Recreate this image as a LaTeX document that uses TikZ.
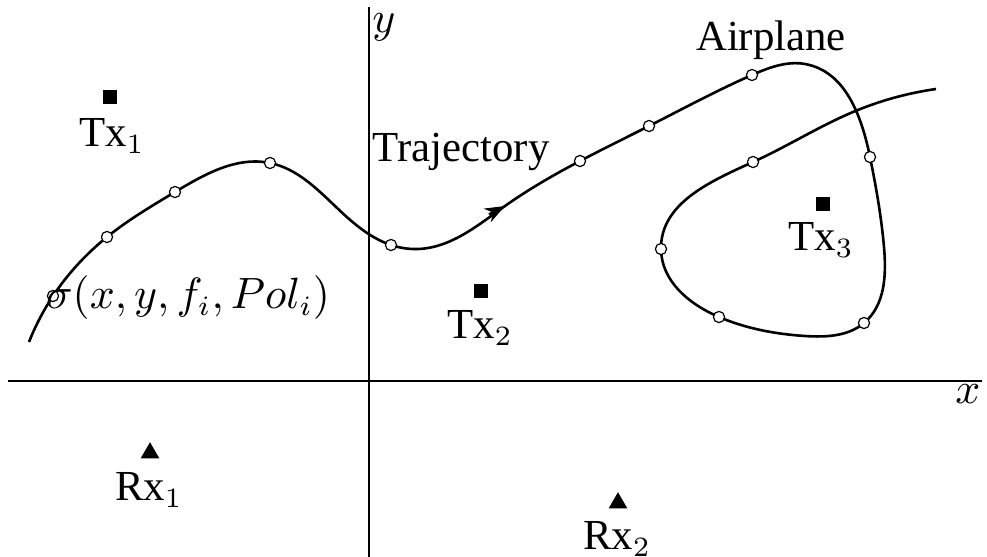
\documentclass[tikz,border=0pt]{standalone}
\usepackage{fontspec}
\setmainfont{Liberation Serif}
\usetikzlibrary{arrows.meta,positioning,shapes.geometric,calc,hobby}

\begin{document}
\begin{tikzpicture}[x=0.25pt, y=-0.25pt,
  font=\fontsize{10.7}{12.8}\selectfont,
  axis/.style={line width=0.5pt},
  traj/.style={line width=0.65pt, use Hobby shortcut},
  wpt/.style={circle, draw, fill=white, line width=0.3pt, inner sep=0pt,
    minimum size=2.8pt},
  txmark/.style={fill=black, inner sep=0pt, minimum size=3.5pt},
  rxmark/.style={regular polygon, regular polygon sides=3, fill=black,
    inner sep=0pt, minimum size=5.4pt},
  lbl/.style={inner sep=0pt}
]
\useasboundingbox (0,0) rectangle (987,557);
% axes
\coordinate (xs) at (8,381);
\coordinate (xe) at (982,381);
\coordinate (ys) at (369,557);
\coordinate (ye) at (369,7);
\draw[axis] (xs) -- (xe);
\draw[axis] (ys) -- (ye);
\node[lbl] (xlbl) at (968,394) {$x$};
\node[lbl] (ylbl) at (384,27) {$y$};
% trajectory points
\coordinate (t0) at (29,342);
\coordinate (c1) at (53,296);
\coordinate (c2) at (107,237);
\coordinate (c3) at (175,192);
\coordinate (c4) at (270,163);
\coordinate (t1) at (335,206);
\coordinate (c5) at (391,245);
\coordinate (t2) at (418,249);
\coordinate (arr) at (505,206);
\coordinate (arrb) at (489,214.5);
\coordinate (c6) at (580,161);
\coordinate (c7) at (649,126);
\coordinate (c8) at (752,75);
\coordinate (t3) at (805,64);
\coordinate (c9) at (870,157);
\coordinate (t5) at (884,247);
\coordinate (c10) at (864,323);
\coordinate (t6) at (805,336);
\coordinate (c11) at (719,317);
\coordinate (c12) at (661,249);
\coordinate (c13) at (753,162);
\coordinate (t8) at (853,112);
\coordinate (t9) at (936,89);
\draw[traj] (t0) .. (c1) .. (c2) .. (c3) .. (c4) .. (t1) .. (c5) .. (t2)
  .. (arr) .. (c6) .. (c7) .. (c8) .. (t3) .. (c9) .. (t5) .. (c10) .. (t6)
  .. (c11) .. (c12) .. (c13) .. (t8) .. (t9);
\draw[line width=0.65pt, -{Stealth[length=5pt, width=3.8pt, inset=1.6pt]}]
  (arrb) -- (arr);
\foreach \i in {1,...,13}
  \node[wpt] (w\i) at (c\i) {};
% transmitters and receivers
\node[txmark] (tx1) at (110,97) {};
\node[txmark] (tx2) at (481,291) {};
\node[txmark] (tx3) at (823,204) {};
\node[rxmark] (rx1) at (150,453) {};
\node[rxmark] (rx2) at (618,503) {};
\node[lbl] (tx1lbl) at (112,136) {Tx$_1$};
\node[lbl] (tx2lbl) at (480,328) {Tx$_2$};
\node[lbl] (tx3lbl) at (821,240) {Tx$_3$};
\node[lbl] (rx1lbl) at (149,490) {Rx$_1$};
\node[lbl] (rx2lbl) at (617,539) {Rx$_2$};
% labels
\node[lbl] (plane) at (771,40) {Airplane};
\node[lbl] (trajlbl) at (461,152) {Trajectory};
\node[lbl] (sigma) at (188,298) {$\sigma(x,y,f_i,Pol_i)$};
\end{tikzpicture}
\end{document}
